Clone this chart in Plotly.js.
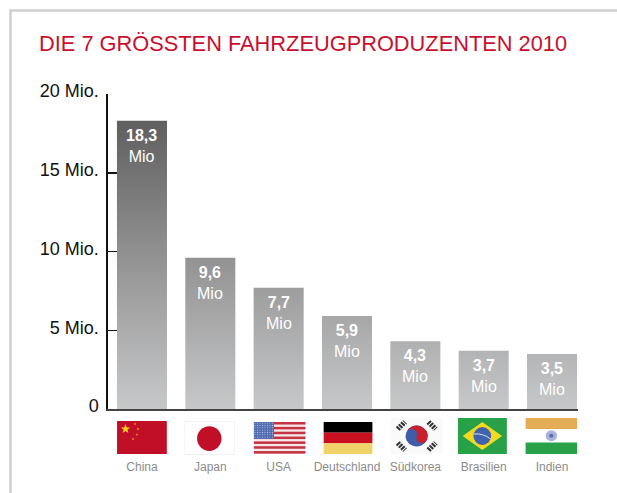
<!DOCTYPE html>
<html><head><meta charset="utf-8">
<script src="https://cdn.plot.ly/plotly-3.0.1.min.js"></script>
<style>html,body{margin:0;padding:0;background:#fff}#c{width:617px;height:493px}</style>
</head><body><div id="c"></div>
<script>
const categories = ['China','Japan','USA','Deutschland','Südkorea','Brasilien','Indien'];
const values = [18.3,9.6,7.7,5.9,4.3,3.7,3.5];
const valueLabels = ['18,3','9,6','7,7','5,9','4,3','3,7','3,5'];
const yTicks = [0,5,10,15,20];
const yTickLabels = ['0','5 Mio.','10 Mio.','15 Mio.','20 Mio.'];
const titleText = 'DIE 7 GRÖSSTEN FAHRZEUGPRODUZENTEN 2010';

const W=617,H=493;
function star(cx,cy,r,f){let p=[];for(let i=0;i<10;i++){const a=-Math.PI/2+i*Math.PI/5,q=i%2?r*0.4:r;p.push((cx+q*Math.cos(a)).toFixed(2)+','+(cy+q*Math.sin(a)).toFixed(2));}return `<polygon points="${p.join(' ')}" fill="${f}"/>`;}
const usDots = `<pattern id="d" width="2.4" height="2.4" patternUnits="userSpaceOnUse"><circle cx="1.2" cy="1.2" r=".6" fill="#b9c4e2"/></pattern>`;
const flagSvg = {
 China:`<rect width="50" height="33" fill="#c00f26"/>`+star(8.5,8,5,'#f7d417')+star(18,3,1.6,'#dd9a1c')+star(21,8,1.6,'#dd9a1c')+star(20,13.5,1.6,'#dd9a1c')+star(16,18,1.6,'#dd9a1c'),
 Japan:`<rect width="50" height="33" fill="#eee"/><rect x=".7" y=".7" width="48.6" height="31.6" fill="#fff"/><circle cx="25" cy="17" r="12" fill="#c00f26"/>`,
 USA:`<defs>${usDots}</defs><rect width="50" height="33" fill="#f4e9e8"/>`+[0,5,10,15,20,25,30].map(y=>`<rect y="${y}" width="50" height="2.6" fill="#c63344"/>`).join('')+`<rect width="19.5" height="17.5" fill="#4d68ae"/><rect width="19.5" height="17.5" fill="url(#d)"/>`,
 Deutschland:`<rect width="50" height="11" fill="#000"/><rect y="11" width="50" height="11" fill="#c8101f"/><rect y="22" width="50" height="11" fill="#efd268"/>`,
 'Südkorea':`<rect width="50" height="36" fill="#fafafa"/><g transform="rotate(20 25 18)"><circle cx="25" cy="18" r="10.5" fill="#3f5ca8"/><path d="M14.5 18a10.5 10.5 0 0 1 21 0a5.25 5.25 0 0 1-10.5 0a5.25 5.25 0 0 0-10.5 0z" fill="#c8202f"/></g><g stroke="#333" stroke-width="5" stroke-dasharray="2 1"><path d="M7 11L14 4M36 4L43 11M7 25L14 32M36 32L43 25"/></g>`,
 Brasilien:`<rect width="50" height="36" fill="#28a148"/><polygon points="25,4 45,18 25,32 5,18" fill="#f3d91f"/><circle cx="25" cy="18" r="9" fill="#3f63ae"/><path d="M16.5 16q9-1 17 5" stroke="#dfe6ee" stroke-width="1" fill="none"/>`,
 Indien:`<rect width="50" height="36" fill="#fff"/><rect width="50" height="11" fill="#e3ac55"/><rect y="24.5" width="50" height="11.5" fill="#28a148"/><circle cx="25" cy="17.7" r="5.5" fill="#a9b3dc"/><circle cx="25" cy="17.7" r="2" fill="#5a6ab0"/>`
};
const flagH = {China:33,Japan:33,USA:33,Deutschland:33,'Südkorea':36,Brasilien:36,Indien:36};
const flagW = [0.73,0.745,0.76,0.72,0.775,0.72,0.76];
const flagDx = [0,-0.015,0.015,0.015,0.02,-0.02,-0.01];
const flagTop = [421,421,422,422,418,418,418];
const flagBox = {China:33,Japan:34,USA:32,Deutschland:32,'Südkorea':36,Brasilien:36,Indien:36};

const images = categories.map((c,i)=>({
  source:'data:image/svg+xml;charset=utf-8,'+encodeURIComponent(`<svg xmlns="http://www.w3.org/2000/svg" viewBox="0 0 50 ${flagH[c]}" preserveAspectRatio="none" width="200" height="${flagH[c]*4}">${flagSvg[c]}</svg>`),
  xref:'x',yref:'paper',x:i+flagDx[i],y:1-flagTop[i]/H,sizex:flagW[i],sizey:flagBox[c]/H,
  xanchor:'center',yanchor:'top',sizing:'stretch',layer:'above'
}));

const trace = {
  type:'bar',x:categories.map((c,i)=>i),y:values,
  marker:{color:'#999',line:{width:0}},hoverinfo:'skip'
};
const barLabels = values.map((v,i)=>({
  text:`<b>${valueLabels[i]}</b><br>Mio`,xref:'x',yref:'y',x:i,y:v,yanchor:'top',xanchor:'center',yshift:-4,
  showarrow:false,align:'center',font:{family:'Liberation Sans',size:16,color:'#fff'}
}));
const layout = {
  width:W,height:H,margin:{l:0,r:0,t:0,b:0},paper_bgcolor:'#fff',plot_bgcolor:'#fff',
  showlegend:false,bargap:0.268,images,
  font:{family:'Liberation Sans'},
  xaxis:{domain:[107.8/W,578/W],range:[-0.5,6.38],tickmode:'array',tickvals:categories.map((c,i)=>i),ticktext:categories,
    showline:true,linecolor:'#444',linewidth:2,showgrid:false,zeroline:false,ticks:'',
    ticklabelstandoff:46,tickfont:{size:12,color:'#8c8c8c',family:'Liberation Sans'}},
  yaxis:{domain:[1-409/H,1-94/H],range:[0,20],tickmode:'array',tickvals:yTicks,ticktext:yTickLabels,
    showline:true,linecolor:'#111',linewidth:1.5,showgrid:false,zeroline:false,
    ticks:'inside',ticklen:11,tickwidth:1.5,tickcolor:'#111',layer:'below traces',
    ticklabelstandoff:4,ticklabelshift:-3,tickfont:{size:18,color:'#111',family:'Liberation Sans'}},
  annotations:[{text:titleText,xref:'paper',yref:'paper',x:37/W,y:1-44/H,xanchor:'left',yanchor:'middle',showarrow:false,
    font:{size:21.8,color:'#c8102e',family:'Liberation Sans'}}].concat(barLabels),
  shapes:[{type:'path',xref:'paper',yref:'paper',path:`M ${10.5/W} 0 L ${10.5/W} ${1-10.5/H} L 1 ${1-10.5/H}`,line:{color:'#cfcfcf',width:2.5},layer:'below'}]
};
Plotly.newPlot('c',[trace],layout,{displayModeBar:false,staticPlot:true}).then(gd=>{
  const paths=[...gd.querySelectorAll('.bars .point path')];
  const b=paths[0].getBBox();
  const svg=paths[0].ownerSVGElement,NS='http://www.w3.org/2000/svg';
  const defs=svg.querySelector('defs')||svg.insertBefore(document.createElementNS(NS,'defs'),svg.firstChild);
  const g=document.createElementNS(NS,'linearGradient');
  g.setAttribute('id','barGrad');g.setAttribute('gradientUnits','userSpaceOnUse');
  g.setAttribute('x1',0);g.setAttribute('x2',0);g.setAttribute('y1',b.y);g.setAttribute('y2',b.y+b.height);
  [[0,'#5f5f5f'],[0.5,'#959596'],[1,'#c7c8c9']].forEach(([o,c])=>{const s=document.createElementNS(NS,'stop');s.setAttribute('offset',o);s.setAttribute('stop-color',c);g.appendChild(s);});
  defs.appendChild(g);
  paths.forEach(p=>{p.style.fill='url(#barGrad)';});
});
</script></body></html>
